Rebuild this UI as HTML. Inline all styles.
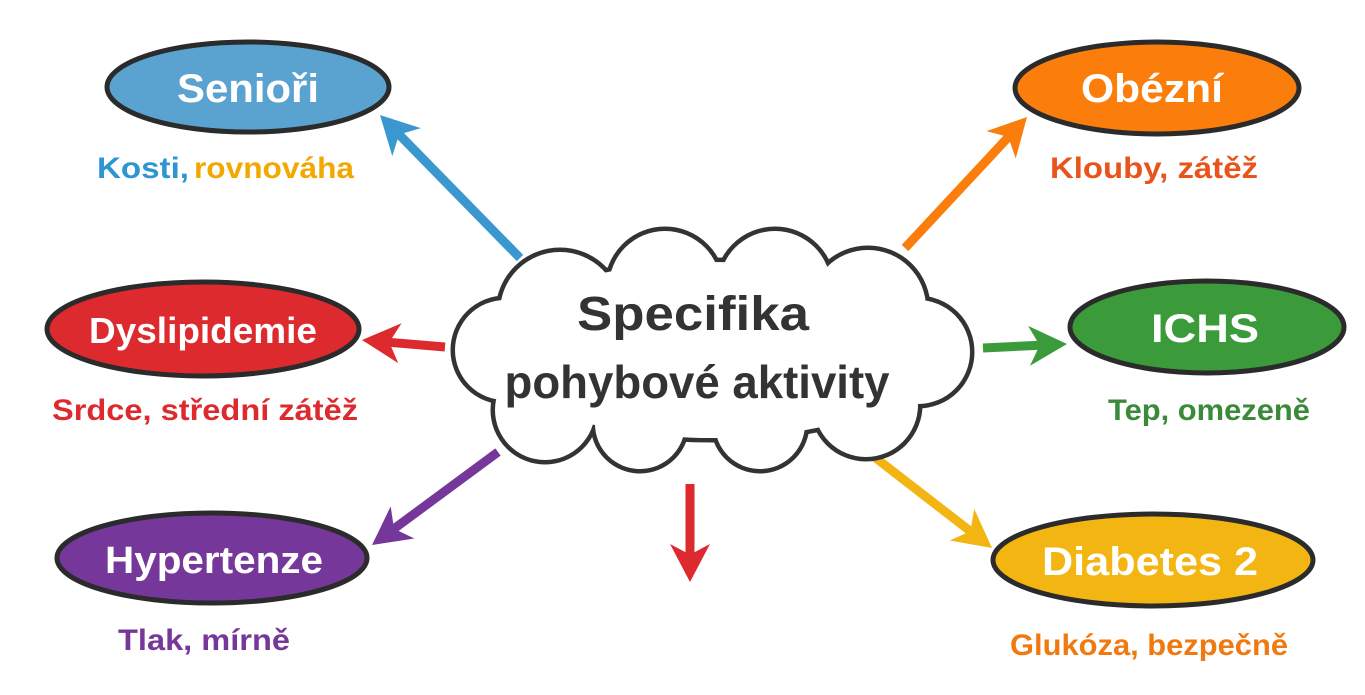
<!DOCTYPE html>
<html><head><meta charset="utf-8"><style>
html,body{margin:0;padding:0;background:#fff;width:1365px;height:695px;overflow:hidden}
svg{display:block}
text{font-family:"Liberation Sans",sans-serif;font-weight:bold}
</style></head><body>
<svg id="s" width="1365" height="695" viewBox="0 0 1365 695" xmlns="http://www.w3.org/2000/svg">
<g id="arrows"></g>
<defs>
<g id="cl">
<ellipse cx="712" cy="350" rx="225" ry="88"/>
<circle cx="560" cy="312" r="60"/><circle cx="665" cy="287" r="56"/><circle cx="775" cy="287" r="56"/>
<circle cx="868" cy="308" r="58"/><circle cx="918" cy="352" r="52"/><circle cx="505" cy="350" r="50"/>
<circle cx="545" cy="410" r="50"/><circle cx="640" cy="424" r="45"/><circle cx="760" cy="424" r="45"/><circle cx="866" cy="405" r="52"/>
</g>
</defs>
<use href="#cl" stroke="#333" stroke-width="9" fill="#fff"/>
<use href="#cl" fill="#fff"/>
<text x="693" y="330" font-size="48" fill="#333" text-anchor="middle" textLength="232" lengthAdjust="spacingAndGlyphs">Specifika</text>
<text x="697" y="398" font-size="46" fill="#333" text-anchor="middle" textLength="385" lengthAdjust="spacingAndGlyphs">pohybové aktivity</text>

<g stroke="#2b2b2b" stroke-width="5">
<ellipse cx="248" cy="87" rx="141" ry="45" fill="#5aa2d0"/>
<ellipse cx="203" cy="329" rx="156" ry="47" fill="#dd2a2e"/>
<ellipse cx="212" cy="558" rx="155" ry="45" fill="#75389a"/>
<ellipse cx="1157" cy="88" rx="142" ry="46" fill="#fb7d0c"/>
<ellipse cx="1207" cy="327" rx="137" ry="46" fill="#3b9a3a"/>
<ellipse cx="1153" cy="560" rx="160" ry="46" fill="#f3b511"/>
</g>
<g fill="#fff" text-anchor="middle" font-size="40">
<text x="248" y="102" textLength="142" lengthAdjust="spacingAndGlyphs">Senioři</text>
<text x="203" y="343" textLength="228" lengthAdjust="spacingAndGlyphs" font-size="36">Dyslipidemie</text>
<text x="214" y="573" textLength="218" lengthAdjust="spacingAndGlyphs" font-size="38">Hypertenze</text>
<text x="1152" y="102" textLength="142" lengthAdjust="spacingAndGlyphs">Obézní</text>
<text x="1205" y="342" textLength="108" lengthAdjust="spacingAndGlyphs">ICHS</text>
<text x="1150" y="575" textLength="216" lengthAdjust="spacingAndGlyphs">Diabetes 2</text>
</g>
<g font-size="30">
<text x="97" y="178" fill="#2f95d0" textLength="92" lengthAdjust="spacingAndGlyphs">Kosti,</text>
<text x="194" y="178" fill="#f2a800" textLength="160" lengthAdjust="spacingAndGlyphs">rovnováha</text>
<text x="52" y="420" fill="#dd2a2e" textLength="306" lengthAdjust="spacingAndGlyphs">Srdce, střední zátěž</text>
<text x="118" y="650" fill="#75389a" textLength="172" lengthAdjust="spacingAndGlyphs">Tlak, mírně</text>
<text x="1050" y="178" fill="#e8541a" textLength="208" lengthAdjust="spacingAndGlyphs">Klouby, zátěž</text>
<text x="1108" y="420" fill="#3b8a3a" textLength="202" lengthAdjust="spacingAndGlyphs">Tep, omezeně</text>
<text x="1010" y="655" fill="#f07a10" textLength="278" lengthAdjust="spacingAndGlyphs">Glukóza, bezpečně</text>
</g>
</svg>
<script>
var A=[[520,258,380,115,"#3b97d0"],[445,347,362,340,"#dd2a2e"],[498,452,372,545,"#75389a"],[690,484,690,582,"#dd2a2e"],[905,248,1027,117,"#fb7d0c"],[983,348,1067,344,"#3b9a3a"],[868,452,992,548,"#f3b511"]];
var g=document.getElementById("arrows"),h="";
A.forEach(function(a){var dx=a[2]-a[0],dy=a[3]-a[1],L=Math.hypot(dx,dy),ux=dx/L,uy=dy/L,px=-uy,py=ux;
var hl=38,hw=20,bx=a[2]-ux*hl,by=a[3]-uy*hl,nx=a[2]-ux*hl*0.72,ny=a[3]-uy*hl*0.72;
h+='<line x1="'+a[0]+'" y1="'+a[1]+'" x2="'+nx+'" y2="'+ny+'" stroke="'+a[4]+'" stroke-width="9"/>';
h+='<polygon fill="'+a[4]+'" points="'+a[2]+','+a[3]+' '+(bx+px*hw)+','+(by+py*hw)+' '+nx+','+ny+' '+(bx-px*hw)+','+(by-py*hw)+'"/>';});
g.innerHTML=h;
</script>
</body></html>
